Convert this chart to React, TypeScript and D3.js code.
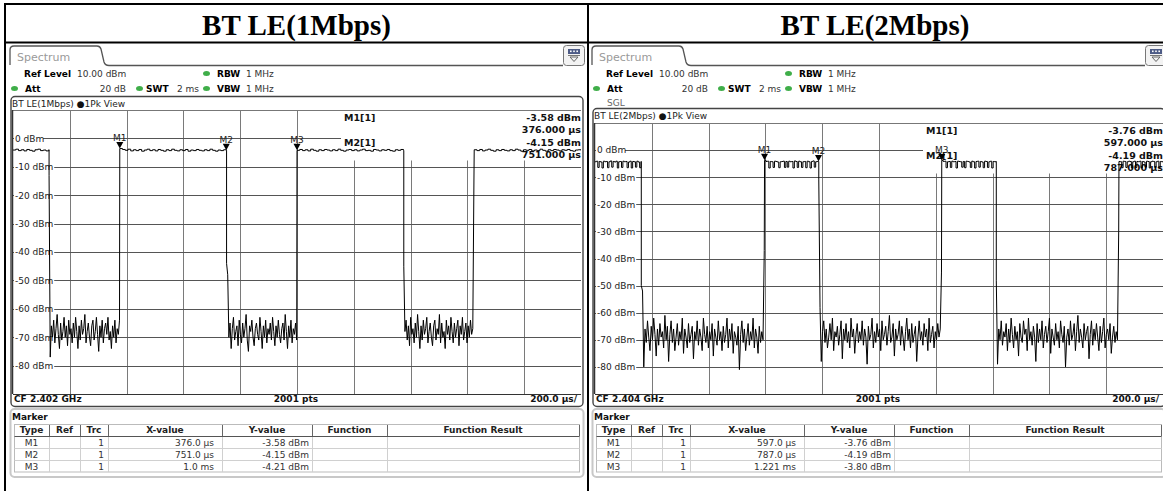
import React from 'react';
import * as d3 from 'd3';

const W = 1163;
const H = 491;

// Analyzer settings shared by both sweeps
const refLevelDbm = 10;
const bottomLevelDbm = -90;
const sweepUs = 2000;
const sweepPoints = 2001;
const gridLevels = [0, -10, -20, -30, -40, -50, -60, -70, -80];
const panelTitles = ['BT LE(1Mbps)', 'BT LE(2Mbps)'];
const centerFreqs = ['CF 2.402 GHz', 'CF 2.404 GHz'];

// ---- BT LE 1 Mbps sweep: spans in µs (inclusive) and trace levels in dBm ----
// Spans alternate: packet burst, idle gap, burst, ...
const le1mSpans = [[0, 126], [127, 375], [376, 751], [752, 999], [1000, 1375], [1376, 1623], [1624, 2000]];
const le1mBurst1 = [-4.1, -3.8, -4.3, -4.0, -4.4, -3.9, -4.2, -4.5, -4.0, -3.8, -4.3, -4.1, -4.4, -4.0];
const le1mGap1 = [-13, -77, -66, -70, -64, -72, -67, -62, -69, -74, -65, -71, -68, -63, -70, -66, -73, -64, -69, -67, -72, -65, -70, -63, -68, -74, -66, -71, -64, -69, -67, -62, -72, -68, -65, -70, -73, -66, -64, -71, -68, -63, -69, -75, -66, -70, -64, -72, -67, -65, -69, -63, -71, -68, -74, -66, -70, -64, -72, -67, -69, -64];
const le1mBurst2 = [-3.58, -3.9, -4.2, -3.8, -4.4, -4.0, -4.3, -3.9, -4.5, -4.1, -3.8, -4.3, -4.0, -4.4, -3.9, -4.2, -4.5, -4.0, -4.3, -3.8, -4.2, -4.4, -4.0, -4.3, -3.9, -4.5, -4.1, -4.3, -3.9, -4.2, -4.4, -4.0, -4.3, -3.8, -4.2, -4.5, -4.1, -4.3, -4.0, -4.15];
const le1mGap2 = [-44, -48, -70, -65, -74, -67, -63, -71, -68, -66, -73, -64, -69, -72, -65, -70, -67, -62, -71, -75, -66, -68, -64, -70, -73, -67, -65, -69, -71, -63, -68, -74, -66, -70, -64, -72, -67, -69, -65, -71, -63, -68, -73, -66, -70, -64, -69, -72, -67, -65, -71, -62, -68, -74, -66, -70, -64, -72, -67, -69, -65, -71];
const le1mBurst3 = [-4.21, -3.9, -4.3, -4.0, -4.4, -3.8, -4.2, -4.5, -4.0, -4.3, -3.9, -4.1, -4.4, -4.0, -4.3, -3.8, -4.2, -4.5, -4.1, -3.9, -4.3, -4.0, -4.4, -4.1, -3.8, -4.3, -4.2, -4.5, -3.9, -4.1, -4.4, -4.0, -4.2, -3.9, -4.3, -4.5, -4.0, -4.2, -3.9, -4.2];
const le1mGap3 = [-45, -68, -64, -71, -66, -73, -63, -69, -67, -72, -65, -70, -62, -68, -74, -66, -71, -64, -69, -67, -63, -72, -68, -65, -70, -73, -66, -64, -71, -67, -69, -62, -72, -65, -70, -68, -74, -64, -69, -66, -71, -63, -68, -72, -65, -70, -67, -64, -73, -66, -69, -63, -71, -68, -65, -72, -66, -70, -64, -69, -67, -15];
const le1mBurst4 = [-4.0, -4.3, -3.9, -4.4, -4.1, -3.8, -4.2, -4.5, -4.0, -4.3, -3.9, -4.2, -4.4, -4.0, -4.3, -3.8, -4.1, -4.5, -4.0, -4.2, -3.9, -4.4, -4.1, -4.3, -3.8, -4.2, -4.5, -4.0, -4.3, -3.9, -4.1, -4.4, -4.0, -4.2, -3.9, -4.3, -4.5, -4.1, -4.0, -4.2];

// ---- BT LE 2 Mbps sweep ----
const le2mSpans = [[0, 162], [163, 596], [597, 787], [788, 1220], [1221, 1412], [1413, 1844], [1845, 2000]];
const le2mBurst1 = [-4.3, -4.1, -6.4, -4.2, -4.4, -6.6, -4.1, -4.3, -4.2, -6.5, -4.3, -4.0, -6.3, -4.2, -4.4, -4.1, -6.6, -4.3, -4.2, -6.4, -4.1, -4.3, -4.2, -6.5, -4.4, -4.1, -6.6, -4.2, -4.3, -6.3, -4.1, -4.4, -6.5, -4.2];
const le2mGap1 = [-50, -52, -80, -66, -71, -63, -69, -74, -65, -70, -62, -68, -76, -66, -72, -64, -69, -67, -73, -61, -70, -65, -78, -68, -63, -71, -66, -74, -69, -64, -72, -67, -70, -62, -75, -66, -69, -73, -64, -71, -68, -65, -77, -67, -70, -63, -72, -66, -69, -74, -62, -68, -71, -65, -73, -67, -70, -64, -76, -66, -69, -72, -63, -70, -67, -74, -65, -71, -68, -62, -73, -66, -70, -64, -75, -67, -69, -72, -65, -81, -68, -63, -71, -66, -74, -69, -64, -72, -67, -70, -62, -73, -66, -69, -75, -65, -71, -67, -70, -37];
const le2mBurst2 = [-3.76, -4.2, -4.1, -6.6, -4.2, -4.3, -6.4, -4.1, -4.2, -4.4, -6.5, -4.3, -4.2, -4.1, -6.4, -4.2, -6.3, -4.1, -4.3, -4.2, -6.6, -4.0, -4.2, -6.4, -4.1, -4.3, -6.4, -4.3, -4.2, -6.5, -4.1, -4.3, -6.6, -4.2, -4.0, -6.3, -4.3, -4.2, -4.19];
const le2mGap2 = [-11, -58, -78, -67, -63, -71, -66, -73, -69, -64, -70, -62, -74, -67, -69, -65, -72, -68, -63, -77, -66, -70, -64, -71, -67, -73, -62, -69, -66, -75, -68, -64, -71, -67, -70, -63, -72, -66, -69, -79, -65, -70, -68, -62, -73, -67, -71, -64, -69, -66, -74, -63, -70, -68, -65, -72, -67, -61, -71, -69, -64, -76, -66, -70, -68, -63, -72, -65, -69, -74, -67, -62, -70, -66, -73, -64, -71, -68, -65, -78, -69, -63, -70, -67, -72, -64, -69, -66, -74, -62, -71, -68, -65, -73, -67, -70, -64, -69, -66, -45];
const le2mBurst3 = [-3.8, -4.2, -4.1, -6.5, -4.3, -4.2, -6.4, -4.1, -4.3, -4.2, -6.6, -4.1, -4.2, -4.3, -6.3, -4.2, -6.5, -4.1, -4.2, -4.4, -6.4, -4.1, -4.3, -6.6, -4.2, -4.1, -6.3, -4.2, -4.4, -6.5, -4.1, -4.2, -6.4, -4.3, -4.1, -6.6, -4.2, -4.3, -4.2];
const le2mGap3 = [-48, -79, -66, -70, -63, -72, -67, -69, -64, -74, -66, -71, -62, -68, -73, -65, -70, -67, -76, -64, -69, -71, -63, -68, -66, -74, -62, -70, -67, -72, -65, -69, -78, -64, -71, -66, -70, -63, -73, -68, -65, -71, -67, -62, -75, -66, -69, -72, -64, -70, -67, -73, -63, -68, -71, -65, -80, -69, -66, -72, -63, -70, -68, -64, -74, -67, -61, -71, -66, -69, -73, -64, -70, -67, -65, -77, -68, -63, -72, -66, -70, -64, -69, -74, -65, -71, -67, -62, -73, -68, -66, -70, -64, -75, -69, -65, -71, -67, -70, -30];
const le2mBurst4 = [-4.2, -4.3, -6.5, -4.1, -4.2, -6.4, -4.3, -4.1, -4.2, -6.6, -4.3, -4.1, -6.4, -4.2, -4.3, -4.1, -6.5, -4.2, -4.4, -6.3, -4.1, -4.2, -6.6, -4.3, -4.1, -4.2, -6.4, -4.3, -4.1, -6.5, -4.2, -4.3, -4.2];

// Markers (time in µs, level in dBm)
const le1mMarkers = [
  { name: 'M1', us: 376, dbm: -3.58 },
  { name: 'M2', us: 751, dbm: -4.15 },
  { name: 'M3', us: 1000, dbm: -4.21 },
];
const le2mMarkers = [
  { name: 'M1', us: 597, dbm: -3.76 },
  { name: 'M2', us: 787, dbm: -4.19 },
  { name: 'M3', us: 1221, dbm: -3.8 },
];

const tableHeaders = ['Type', 'Ref', 'Trc', 'X-value', 'Y-value', 'Function', 'Function Result'];
const tableCols = [14, 49, 80, 108, 222, 312, 387, 579];

const UI_FONT = '"DejaVu Sans", Verdana, sans-serif';
const GREEN = '#3fae49';

function fmtTable(us: number) {
  if (us >= 1000) {
    const ms = us / 1000;
    return `${Number.isInteger(ms) ? ms.toFixed(1) : ms.toFixed(3)} ms`;
  }
  return `${us.toFixed(1)} µs`;
}

type Marker = { name: string; us: number; dbm: number };
type Pt = [number, number];

function spanPoints(span: number[], vals: number[]): Pt[] {
  const n = vals.length;
  return vals.map((v, k) => [n === 1 ? span[0] : span[0] + (k * (span[1] - span[0])) / (n - 1), v] as Pt);
}

function Panel(props: {
  ox: number;
  title: string;
  cf: string;
  sgl: boolean;
  spans: number[][];
  segments: number[][];
  markers: Marker[];
  clipId: string;
}) {
  const { ox, title, cf, sgl, spans, segments, markers, clipId } = props;
  const boxTop = sgl ? 108 : 96;
  const plotTop = sgl ? 123 : 110;
  const plotBottom = 394;
  const plotLeft = ox + 13;
  const plotRight = ox + 581;

  const x = d3.scaleLinear().domain([0, sweepUs]).range([plotLeft, plotRight]);
  const y = d3.scaleLinear().domain([refLevelDbm, bottomLevelDbm]).range([plotTop, plotBottom]);

  // Bursts are sample-held (step), idle noise is drawn point to point.
  const stepLine = d3.line<Pt>().curve(d3.curveStepAfter).x((d) => x(d[0])).y((d) => y(d[1]));
  const linLine = d3.line<Pt>().x((d) => x(d[0])).y((d) => y(d[1]));
  const pieces = spans.map((span, i) => {
    const pts = spanPoints(span, segments[i]);
    if (i + 1 < spans.length) pts.push(spanPoints(spans[i + 1], segments[i + 1])[0]);
    return (i % 2 === 0 ? stepLine : linLine)(pts) || '';
  });

  const timeGrid = x.ticks(10).filter((t) => t > 0 && t < sweepUs);
  const m1 = markers[0];
  const m2 = markers[1];

  const tx = (v: number) => ox + v;
  const rowY = [436, 448, 460, 472];

  return (
    <g fontFamily={UI_FONT} fontSize={9}>
      {/* Tab and header strip */}
      <path
        d={`M${ox + 10},65 V50 Q${ox + 10},46 ${ox + 14},46 H${ox + 97} Q${ox + 100},46 ${ox + 101},49 L${ox + 104},62 Q${ox + 105},65.5 ${ox + 109},65.5 H${ox + 563}`}
        fill="none"
        stroke="#555"
        strokeWidth={1.3}
      />
      <text x={ox + 17} y={61} fontSize={11} fill="#9a9a9a">Spectrum</text>
      {/* Menu icon */}
      <rect x={ox + 563.5} y={45.5} width={21} height={20} rx={3} fill="#f3f3f3" stroke="#777" />
      <rect x={ox + 568} y={49} width={12} height={5} fill="#4d5b86" />
      {[0, 1, 2].map((i) => (
        <rect key={i} x={ox + 570 + i * 3.2} y={50.5} width={1.6} height={1.6} fill="#fff" />
      ))}
      <line x1={ox + 568} x2={ox + 580} y1={55.5} y2={55.5} stroke="#777" />
      <path d={`M${ox + 570},57 L${ox + 578},57 L${ox + 574},61.5 Z`} fill="none" stroke="#666" />

      {/* Settings */}
      <text x={ox + 24} y={77} fontWeight="bold">Ref Level</text>
      <text x={ox + 77} y={77} fill="#333">{`${refLevelDbm.toFixed(2)} dBm`}</text>
      <ellipse cx={ox + 206.5} cy={73.5} rx={3.5} ry={2.5} fill={GREEN} />
      <text x={ox + 217} y={77} fontWeight="bold">RBW</text>
      <text x={ox + 246} y={77} fill="#333">1 MHz</text>
      <ellipse cx={ox + 14.5} cy={88.5} rx={3.5} ry={2.5} fill={GREEN} />
      <text x={ox + 25} y={92} fontWeight="bold">Att</text>
      <text x={ox + 126} y={92} textAnchor="end" fill="#333">20 dB</text>
      <ellipse cx={ox + 139.5} cy={88.5} rx={3.5} ry={2.5} fill={GREEN} />
      <text x={ox + 146} y={92} fontWeight="bold">SWT</text>
      <text x={ox + 177} y={92} fill="#333">2 ms</text>
      <ellipse cx={ox + 206.5} cy={88.5} rx={3.5} ry={2.5} fill={GREEN} />
      <text x={ox + 217} y={92} fontWeight="bold">VBW</text>
      <text x={ox + 246} y={92} fill="#333">1 MHz</text>
      {sgl && (
        <text x={ox + 25} y={105.5} fill="#666">SGL</text>
      )}

      {/* Diagram frame */}
      <rect x={ox + 11} y={boxTop + 0.5} width={572} height={406 - boxTop} rx={4} fill="#fff" stroke="#444" strokeWidth={1.4} />
      <text x={ox + 12} y={boxTop + 11} fill="#222">{`${title} `}<tspan fill="#111">●</tspan>1Pk View</text>
      <rect x={plotLeft} y={plotTop} width={plotRight - plotLeft} height={plotBottom - plotTop} fill="#fff" />

      {/* Grid */}
      {timeGrid.map((t) => (
        <line key={t} x1={Math.round(x(t)) + 0.5} x2={Math.round(x(t)) + 0.5} y1={plotTop} y2={plotBottom} stroke="#7a7a7a" />
      ))}
      {gridLevels.map((l) => (
        <line key={l} x1={plotLeft} x2={plotRight} y1={Math.round(y(l)) + 0.5} y2={Math.round(y(l)) + 0.5} stroke="#555" />
      ))}
      {gridLevels.map((l) => {
        const label = `${l} dBm`;
        return (
          <g key={`lbl${l}`}>
            <rect x={plotLeft + 1} y={y(l) - 5} width={label.length * 5.6 + 1} height={10} fill="#fff" />
            <text x={plotLeft + 2} y={y(l) + 3.3} fill="#222">{label}</text>
          </g>
        );
      })}

      {/* Marker readout */}
      <rect x={plotLeft + 328} y={plotTop + 0.5} width={plotRight - plotLeft - 328} height={50} fill="#fff" />
      <g fontWeight="bold" fontSize={9.5} fill="#111">
        <text x={plotLeft + 331} y={plotTop + 10.5}>{`${m1.name}[1]`}</text>
        <text x={plotRight} y={plotTop + 10.5} textAnchor="end">{`${m1.dbm.toFixed(2)} dBm`}</text>
        <text x={plotRight} y={plotTop + 22.5} textAnchor="end">{`${m1.us.toFixed(3)} µs`}</text>
        <text x={plotLeft + 331} y={plotTop + 35.5}>{`${m2.name}[1]`}</text>
        <text x={plotRight} y={plotTop + 35.5} textAnchor="end">{`${m2.dbm.toFixed(2)} dBm`}</text>
        <text x={plotRight} y={plotTop + 48} textAnchor="end">{`${m2.us.toFixed(3)} µs`}</text>
      </g>

      {/* Trace */}
      <clipPath id={clipId}>
        <rect x={plotLeft} y={plotTop} width={plotRight - plotLeft} height={plotBottom - plotTop} />
      </clipPath>
      <g clipPath={`url(#${clipId})`} fill="none" stroke="#000" strokeWidth={1}>
        {pieces.map((d, i) => (
          <path key={i} d={d} />
        ))}
      </g>

      {/* Marker symbols */}
      {markers.map((m) => {
        const mx = x(m.us);
        const my = y(m.dbm);
        return (
          <g key={m.name}>
            <text x={mx} y={my - 7.5} textAnchor="middle" fill="#222">{m.name}</text>
            <path d={`M${mx - 3.5},${my - 6.5} L${mx + 3.5},${my - 6.5} L${mx},${my} Z`} fill="#000" />
          </g>
        );
      })}

      {/* Plot border */}
      <line x1={plotLeft} x2={plotRight} y1={plotTop + 0.5} y2={plotTop + 0.5} stroke="#777" />
      <line x1={plotLeft - 0.5} x2={plotLeft - 0.5} y1={plotTop} y2={plotBottom} stroke="#333" strokeWidth={1.5} />
      <line x1={plotLeft} x2={plotRight} y1={plotBottom + 0.5} y2={plotBottom + 0.5} stroke="#333" />

      {/* Bottom status bar */}
      <g fontWeight="bold" fill="#111">
        <text x={ox + 14} y={401.5}>{cf}</text>
        <text x={ox + 296} y={401.5} textAnchor="middle">{`${sweepPoints} pts`}</text>
        <text x={ox + 577} y={401.5} textAnchor="end">{`${(sweepUs / 10).toFixed(1)} µs/`}</text>
      </g>

      {/* Marker table */}
      <rect x={ox + 10.5} y={409} width={573} height={68} rx={4} fill="none" stroke="#c8c8c8" strokeWidth={2} />
      <text x={ox + 12} y={419.5} fontWeight="bold" fill="#111">Marker</text>
      <rect x={tx(14.5)} y={424.5} width={565} height={47.5} fill="#fff" stroke="#bbb" />
      {rowY.slice(1, 3).map((ry) => (
        <line key={ry} x1={tx(14.5)} x2={tx(579.5)} y1={ry + 0.5} y2={ry + 0.5} stroke="#d0d0d0" />
      ))}
      {tableCols.slice(1, -1).map((c) => (
        <g key={c}>
          <line x1={tx(c) + 0.5} x2={tx(c) + 0.5} y1={425} y2={436} stroke="#666" />
          <line x1={tx(c) + 0.5} x2={tx(c) + 0.5} y1={436} y2={472} stroke="#d0d0d0" />
        </g>
      ))}
      <line x1={tx(579.5)} x2={tx(579.5)} y1={425} y2={436} stroke="#666" />
      <line x1={tx(14.5)} x2={tx(579.5)} y1={436.5} y2={436.5} stroke="#555" />
      {tableHeaders.map((h, i) => (
        <text key={h} x={tx((tableCols[i] + tableCols[i + 1]) / 2)} y={433} textAnchor="middle" fontWeight="bold" fill="#222">{h}</text>
      ))}
      {markers.map((m, i) => {
        const base = rowY[i] + 9.5;
        return (
          <g key={`row${m.name}`} fill="#333">
            <text x={tx(31.5)} y={base} textAnchor="middle">{m.name}</text>
            <text x={tx(104)} y={base} textAnchor="end">1</text>
            <text x={tx(214)} y={base} textAnchor="end">{fmtTable(m.us)}</text>
            <text x={tx(309)} y={base} textAnchor="end">{`${m.dbm.toFixed(2)} dBm`}</text>
          </g>
        );
      })}
    </g>
  );
}

export default function App() {
  return (
    <svg
      width={W}
      height={H}
      viewBox={`0 0 ${W} ${H}`}
      style={{ position: 'absolute', left: 0, top: 0, background: '#fff' }}
    >
      <rect width={W} height={H} fill="#fff" />
      <Panel
        ox={0}
        title={panelTitles[0]}
        cf={centerFreqs[0]}
        sgl={false}
        spans={le1mSpans}
        segments={[le1mBurst1, le1mGap1, le1mBurst2, le1mGap2, le1mBurst3, le1mGap3, le1mBurst4]}
        markers={le1mMarkers}
        clipId="clip1m"
      />
      <Panel
        ox={582}
        title={panelTitles[1]}
        cf={centerFreqs[1]}
        sgl={true}
        spans={le2mSpans}
        segments={[le2mBurst1, le2mGap1, le2mBurst2, le2mGap2, le2mBurst3, le2mGap3, le2mBurst4]}
        markers={le2mMarkers}
        clipId="clip2m"
      />

      {/* Table frame and titles */}
      <g fontFamily='"Liberation Serif", "Times New Roman", serif' fontWeight="bold" fontSize={29} fill="#000">
        <text x={296.5} y={35} textAnchor="middle">{panelTitles[0]}</text>
        <text x={875} y={35} textAnchor="middle">{panelTitles[1]}</text>
      </g>
      <line x1={4} x2={W} y1={4} y2={4} stroke="#000" strokeWidth={2} />
      <line x1={5} x2={5} y1={3} y2={H} stroke="#000" strokeWidth={2} />
      <line x1={4} x2={W} y1={42.5} y2={42.5} stroke="#000" strokeWidth={2} />
      <line x1={588} x2={588} y1={3} y2={H} stroke="#000" strokeWidth={2} />
    </svg>
  );
}
